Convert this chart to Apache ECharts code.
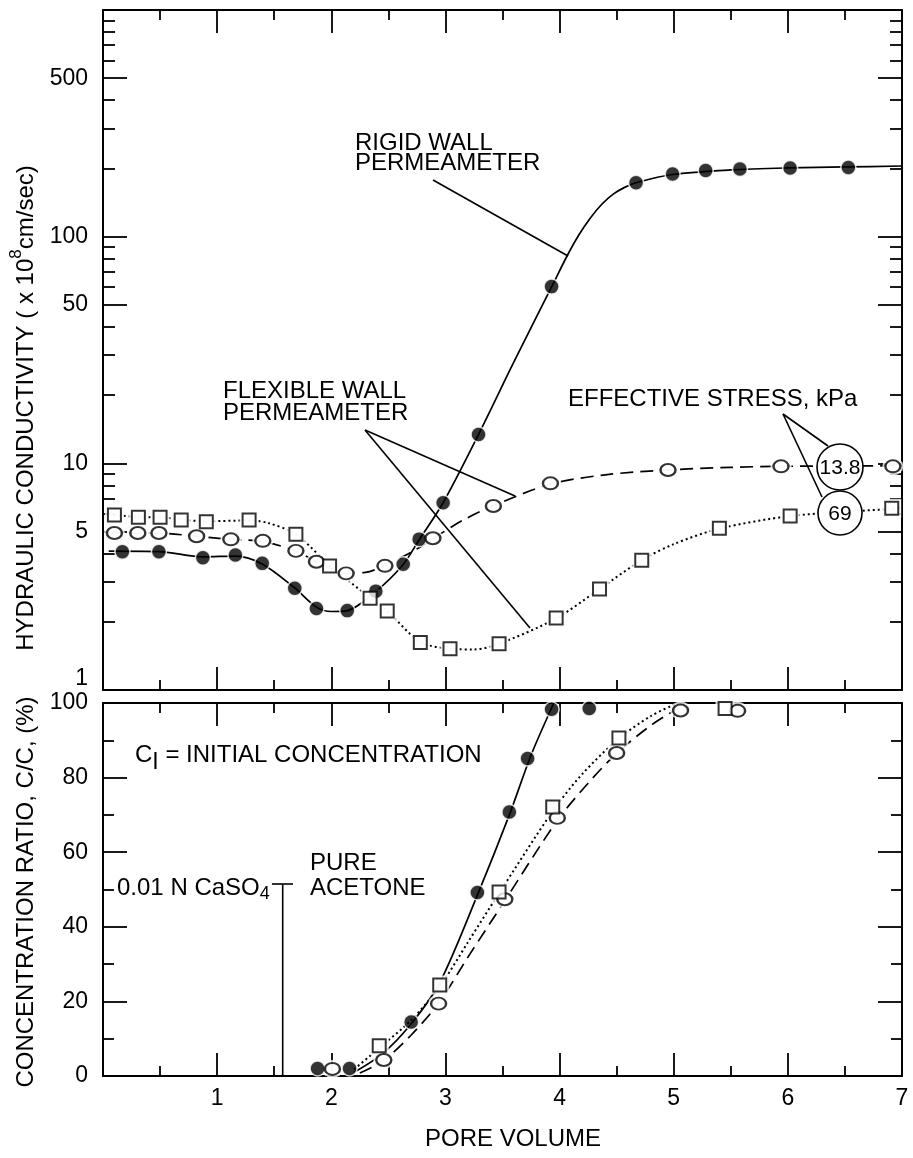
<!DOCTYPE html>
<html><head><meta charset="utf-8">
<script src="https://cdn.jsdelivr.net/npm/echarts@6/dist/echarts.min.js"></script>
<style>html,body{margin:0;padding:0;background:#fff}#c{width:913px;height:1158px}</style>
</head><body><div id="c"></div>
<script>
// ---------- data ----------
const poreVolumeTicks = [1, 2, 3, 4, 5, 6, 7];
const kLabelValues = [1, 5, 10, 50, 100, 500];
const kMajorTicks = [1, 5, 10, 50, 100, 500, 1000];
const kMinorTicks = [2, 3, 4, 6, 7, 8, 9, 20, 30, 40, 60, 70, 80, 90, 200, 300, 400, 600, 700, 800, 900];

// Hydraulic conductivity (x 1e-8 cm/s) vs pore volume
const rigidK = [[0.17,4.07],[0.49,4.07],[0.875,3.83],[1.16,3.94],[1.395,3.62],[1.68,2.81],[1.87,2.29],[2.14,2.24],[2.39,2.73],[2.63,3.59],[2.77,4.63],[2.98,6.7],[3.29,13.4],[3.93,60.2],[4.67,173],[4.99,189],[5.28,196],[5.58,199],[6.02,201],[6.53,202]];
const rigidKCurve = [[0.05,4.1],[0.49,4.08],[0.875,3.87],[1.16,3.9],[1.395,3.6],[1.68,2.82],[1.87,2.32],[2.0,2.22],[2.14,2.24],[2.39,2.72],[2.63,3.58],[2.77,4.6],[2.98,6.7],[3.29,13.4],[3.6,28],[3.93,60],[4.07,83],[4.17,102],[4.27,121],[4.37,139],[4.47,154],[4.57,165],[4.67,173],[4.99,188],[5.5,197],[6.0,201],[6.5,203],[7.0,205]];
const flex13K = [[0.10,4.93],[0.305,4.93],[0.49,4.93],[0.82,4.77],[1.12,4.62],[1.40,4.55],[1.69,4.11],[1.87,3.68],[2.13,3.27],[2.47,3.53],[2.89,4.67],[3.42,6.48],[3.92,8.16],[4.95,9.34],[5.94,9.7],[6.92,9.7]];
const flex13KCurve = [[0.05,4.93],[0.49,4.92],[0.82,4.77],[1.12,4.62],[1.40,4.52],[1.69,4.1],[1.87,3.68],[2.0,3.42],[2.13,3.28],[2.3,3.3],[2.47,3.55],[2.7,4.05],[2.89,4.65],[3.15,5.6],[3.42,6.5],[3.92,8.1],[4.4,8.9],[4.95,9.35],[5.5,9.6],[5.94,9.7],[7.0,9.75]];
const flex69K = [[0.10,5.91],[0.31,5.78],[0.50,5.78],[0.685,5.62],[0.905,5.52],[1.28,5.62],[1.69,4.86],[1.985,3.52],[2.34,2.54],[2.49,2.23],[2.78,1.62],[3.04,1.52],[3.47,1.6],[3.97,2.08],[4.35,2.79],[4.72,3.74],[5.40,5.17],[6.02,5.85],[6.91,6.33]];
const flex69KCurve = [[0.05,5.95],[0.31,5.8],[0.5,5.78],[0.9,5.55],[1.28,5.6],[1.45,5.45],[1.69,4.86],[1.985,3.55],[2.34,2.55],[2.49,2.23],[2.78,1.63],[3.04,1.52],[3.25,1.51],[3.47,1.6],[3.97,2.07],[4.35,2.79],[4.72,3.74],[5.0,4.4],[5.4,5.15],[6.02,5.85],[6.91,6.3],[7.0,6.35]];

// Concentration ratio (%) vs pore volume
const rigidC = [[1.88,2.0],[2.16,2.0],[2.70,14.5],[3.28,49.2],[3.56,70.8],[3.72,85.1],[3.93,98.3],[4.26,98.5]];
const rigidCCurve = [[2.2,1.0],[2.45,6.0],[2.7,14.0],[2.95,25],[3.28,48.5],[3.56,70],[3.75,86],[3.95,100]];
const flex69C = [[2.42,8.1],[2.95,24.4],[3.47,49.3],[3.94,72.1],[4.52,90.6],[5.45,98.5]];
const flex69CCurve = [[2.2,1.8],[2.42,7.5],[2.7,15],[2.95,24],[3.2,36],[3.47,49],[3.94,71],[4.2,81],[4.52,90.5],[4.8,96.5],[5.0,99.5]];
const flex13C = [[2.01,1.9],[2.46,4.3],[2.94,19.4],[3.52,47.4],[3.98,69.2],[4.50,86.6],[5.06,98.0],[5.56,97.9]];
const flex13CCurve = [[2.25,0.8],[2.46,4.2],[2.7,11],[2.94,19.5],[3.2,32],[3.52,47],[3.98,68.5],[4.25,78.5],[4.5,86.5],[4.8,94],[5.05,98.8]];

// ---------- chart ----------
const FONT = '"Liberation Sans", Arial, sans-serif';
const chart = echarts.init(document.getElementById('c'), null, {renderer: 'canvas'});
const L = 103, R = 11;
const grids = [
  {left: L, right: R, top: 10, height: 680},
  {left: L, right: R, top: 703, height: 373}
];
const axLine = {show: true, onZero: false, lineStyle: {color: '#000', width: 2}};
const noLine = {show: false, onZero: false};
const tickLS = {color: '#000', width: 1.8};
function xAx(grid, pos, labels) {
  return {type: 'value', gridIndex: grid, position: pos, min: 0, max: 7, interval: 1,
    axisLine: axLine, splitLine: {show: false},
    axisTick: {show: true, inside: true, length: 23, lineStyle: tickLS},
    minorTick: {show: true, splitNumber: 2, length: 10, lineStyle: tickLS},
    axisLabel: labels ? {show: true, customValues: poreVolumeTicks, margin: 11, color: '#000', fontSize: 23, fontFamily: FONT, showMaxLabel: true} : {show: false}};
}
function logTickAx(pos, values, len, labels) {
  return {type: 'value', gridIndex: 0, position: pos, min: 0, max: 3,
    axisLine: noLine, splitLine: {show: false},
    axisTick: {show: true, inside: true, length: len, customValues: values.map(v => Math.log10(v)), lineStyle: tickLS},
    axisLabel: labels ? {show: true, customValues: kLabelValues.map(v => Math.log10(v)), margin: 15, color: '#000', fontSize: 23, fontFamily: FONT,
      verticalAlignMinLabel: 'bottom',
      formatter: v => String(Math.round(Math.pow(10, v)))} : {show: false}};
}
function cAx(pos, labels) {
  return {type: 'value', gridIndex: 1, position: pos, min: 0, max: 100, interval: 20,
    axisLine: axLine, splitLine: {show: false},
    axisTick: {show: true, inside: true, length: 24, lineStyle: tickLS},
    minorTick: {show: true, splitNumber: 2, length: 11, lineStyle: tickLS},
    axisLabel: labels ? {show: true, margin: 15, color: '#000', fontSize: 23, fontFamily: FONT} : {show: false}};
}
const xAxes = [xAx(0, 'bottom', false), xAx(0, 'top', false), xAx(1, 'bottom', true), xAx(1, 'top', false)];
const yAxes = [
  {type: 'log', logBase: 10, gridIndex: 0, min: 1, max: 1000, position: 'left', axisLine: axLine,
   axisTick: {show: false}, axisLabel: {show: false}, splitLine: {show: false}, minorTick: {show: false}},
  logTickAx('left', kMajorTicks, 24, true),
  logTickAx('left', kMinorTicks, 12, false),
  logTickAx('right', kMajorTicks, 24, false),
  logTickAx('right', kMinorTicks, 12, false),
  {type: 'log', logBase: 10, gridIndex: 0, min: 1, max: 1000, position: 'right', axisLine: axLine,
   axisTick: {show: false}, axisLabel: {show: false}, splitLine: {show: false}, minorTick: {show: false}},
  cAx('left', true),
  cAx('right', false)
];

const SOLID = 'solid', DASH = [13, 7], DOT = [2, 3];
function curve(data, xi, yi, dash) {
  return {type: 'line', xAxisIndex: xi, yAxisIndex: yi, data: data, smooth: 0.3, symbol: 'none', silent: true,
    lineStyle: {color: '#000', width: dash === DOT ? 2 : 1.7, type: dash}, z: 2, clip: true};
}
function marks(data, xi, yi, kind) {
  let s = {type: 'scatter', xAxisIndex: xi, yAxisIndex: yi, data: data, silent: true, z: 4};
  if (kind === 'filled') { s.symbol = 'circle'; s.symbolSize = 15; s.itemStyle = {color: '#000', borderColor: '#fff', borderWidth: 1.5}; }
  if (kind === 'open') { s.symbol = 'circle'; s.symbolSize = [15, 12]; s.itemStyle = {color: '#fff', borderColor: '#000', borderWidth: 2.2}; }
  if (kind === 'square') { s.symbol = 'rect'; s.symbolSize = 13; s.itemStyle = {color: '#fff', borderColor: '#000', borderWidth: 2}; }
  return s;
}
function halo(data, xi, yi, kind) {
  let size = kind === 'open' ? [21, 18] : 19;
  return {type: 'scatter', xAxisIndex: xi, yAxisIndex: yi, data: data, silent: true, z: 3,
    symbol: kind === 'square' ? 'rect' : 'circle', symbolSize: size, itemStyle: {color: '#fff'}};
}

const series = [
  curve(rigidKCurve, 0, 0, SOLID), curve(flex13KCurve, 0, 0, DASH), curve(flex69KCurve, 0, 0, DOT),
  halo(flex13K, 0, 0, 'open'), halo(flex69K, 0, 0, 'square'),
  marks(rigidK, 0, 0, 'filled'), marks(flex13K, 0, 0, 'open'), marks(flex69K, 0, 0, 'square'),
  curve(rigidCCurve, 2, 6, SOLID), curve(flex13CCurve, 2, 6, DASH), curve(flex69CCurve, 2, 6, DOT),
  halo(flex13C, 2, 6, 'open'), halo(flex69C, 2, 6, 'square'),
  marks(rigidC, 2, 6, 'filled'), marks(flex13C, 2, 6, 'open'), marks(flex69C, 2, 6, 'square')
];

const T = (x, y, text, extra) => Object.assign({type: 'text', x: x, y: y, z: 100,
  style: {text: text, fill: '#000', font: '24px ' + FONT, align: 'left', verticalAlign: 'middle'}}, extra || {});
const Ln = (x1, y1, x2, y2) => ({type: 'line', z: 100, shape: {x1, y1, x2, y2}, style: {stroke: '#000', lineWidth: 1.6}});

const graphic = [
  // axis titles
  {type: 'text', x: 26, y: 408, rotation: Math.PI / 2, z: 100,
   style: {text: '{a|HYDRAULIC CONDUCTIVITY ( x 10}{s|8}{a|cm/sec)}', align: 'center', verticalAlign: 'middle',
     rich: {a: {fontSize: 24, fontFamily: FONT, lineHeight: 36, fill: '#000'}, s: {fontSize: 17, fontFamily: FONT, lineHeight: 17, verticalAlign: 'top', fill: '#000'}}}},
  {type: 'text', x: 26, y: 892, rotation: Math.PI / 2, z: 100,
   style: {text: 'CONCENTRATION RATIO, C/C, (%)', fill: '#000', font: '24px ' + FONT, align: 'center', verticalAlign: 'middle'}},
  T(513, 1139, 'PORE VOLUME', {style: {text: 'PORE VOLUME', fill: '#000', font: '24px ' + FONT, align: 'center', verticalAlign: 'middle'}}),
  // top panel annotations
  T(355, 143, 'RIGID WALL'), T(355, 163, 'PERMEAMETER'),
  Ln(433, 180, 568, 256),
  T(223, 391, 'FLEXIBLE WALL'), T(223, 413, 'PERMEAMETER'),
  Ln(365, 430, 515, 496), Ln(365, 430, 530, 628),
  T(568, 399, 'EFFECTIVE STRESS, kPa'),
  Ln(783, 414, 828, 446), Ln(783, 414, 822, 497),
  {type: 'circle', z: 101, shape: {cx: 840, cy: 467, r: 23}, style: {fill: '#fff', stroke: '#000', lineWidth: 1.6}},
  {type: 'circle', z: 101, shape: {cx: 840, cy: 513, r: 22}, style: {fill: '#fff', stroke: '#000', lineWidth: 1.6}},
  {type: 'text', x: 840, y: 468, z: 102, style: {text: '13.8', fill: '#000', font: '21px ' + FONT, align: 'center', verticalAlign: 'middle'}},
  {type: 'text', x: 840, y: 514, z: 102, style: {text: '69', fill: '#000', font: '21px ' + FONT, align: 'center', verticalAlign: 'middle'}},
  // bottom panel annotations
  {type: 'text', x: 135, y: 755, z: 100,
   style: {text: '{a|C}{s|I}{a| = INITIAL CONCENTRATION}', align: 'left', verticalAlign: 'middle',
     rich: {a: {fontSize: 24, fontFamily: FONT, lineHeight: 38, fill: '#000'}, s: {fontSize: 23, fontFamily: FONT, lineHeight: 20, verticalAlign: 'bottom', fill: '#000'}}}},
  {type: 'text', x: 117, y: 888, z: 100,
   style: {text: '{a|0.01 N CaSO}{s|4}', align: 'left', verticalAlign: 'middle',
     rich: {a: {fontSize: 24, fontFamily: FONT, lineHeight: 30, fill: '#000'}, s: {fontSize: 18, fontFamily: FONT, lineHeight: 18, verticalAlign: 'bottom', fill: '#000'}}}},
  Ln(272, 884, 293, 884), Ln(282.7, 884, 282.7, 1076),
  T(310, 863, 'PURE'), T(310, 888, 'ACETONE')
];

chart.setOption({
  animation: false,
  backgroundColor: '#fff',
  textStyle: {fontFamily: FONT, color: '#000'},
  grid: grids,
  xAxis: xAxes,
  yAxis: yAxes,
  series: series,
  graphic: graphic
});
</script></body></html>
